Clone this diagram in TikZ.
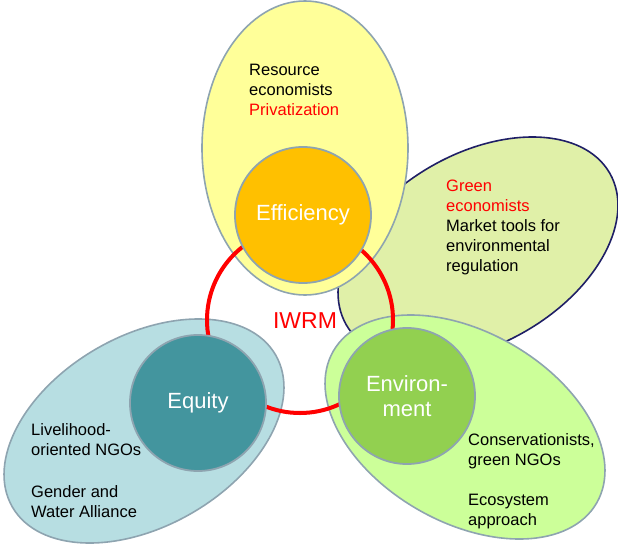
\documentclass[tikz,border=0pt]{standalone}
\usepackage{fontspec}
\setmainfont{Liberation Sans}
\usetikzlibrary{shapes.geometric, positioning}

\definecolor{edgegray}{RGB}{142,164,176}
\definecolor{navyline}{RGB}{31,31,102}
\definecolor{effyellow}{RGB}{255,255,153}
\definecolor{efforange}{RGB}{255,192,0}
\definecolor{greenecon}{RGB}{224,240,168}
\definecolor{envlight}{RGB}{204,255,153}
\definecolor{envgreen}{RGB}{146,208,80}
\definecolor{eqlight}{RGB}{183,222,226}
\definecolor{eqteal}{RGB}{67,149,158}

\begin{document}
\begin{tikzpicture}[x=1pt,y=-1pt,font=\fontsize{16.5}{20}\selectfont]

	\tikzset{blob/.style={ellipse, draw=edgegray, line width=1.6pt, inner sep=0pt},
		core/.style={circle, draw=edgegray, line width=1.8pt, minimum size=136pt,
			text=white, font=\fontsize{22}{25}\selectfont, align=center},
		note/.style={anchor=north west, inner sep=0pt, align=left}}

	\useasboundingbox (0,0) rectangle (618,546);

	% outer groups
	\node[blob, draw=navyline, fill=greenecon, minimum width=304pt, minimum height=190pt,
		rotate=30] (GE) at (478,249) {};
	\node[blob, fill=effyellow, minimum width=206pt, minimum height=294pt] (RE) at (305,148) {};
	\node[blob, fill=eqlight, minimum width=304pt, minimum height=190pt, rotate=30] (LN) at (144,431) {};
	\node[blob, fill=envlight, minimum width=304pt, minimum height=190pt, rotate=-30] (CN) at (465,427) {};

	% the ring
	\node[circle, draw=red, line width=4pt, minimum size=186pt, inner sep=0pt] (ring) at (300,320) {};
	\node[text=red, font=\fontsize{23}{26}\selectfont] (iwrm) at (305,321) {IWRM};

	% goals
	\node[core, fill=efforange] (eff) at (303,215) {Efficiency};
	\node[core, fill=eqteal] (eq) at (198,403) {Equity};
	\node[core, fill=envgreen] (env) at (407,396) {Environ-\\ment};

	% actors
	\node[note] (reT) at (249,64) {Resource\\economists\\\textcolor{red}{Privatization}};
	\node[note] (geT) at (446,180) {\textcolor{red}{Green}\\\textcolor{red}{economists}\\Market tools for\\environmental\\regulation};
	\node[note] (lnT) at (31,423) {Livelihood-\\oriented NGOs\\[22pt]Gender and\\Water Alliance};
	\node[note] (cnT) at (468,433) {Conservationists,\\green NGOs\\[20pt]Ecosystem\\approach};

\end{tikzpicture}
\end{document}
